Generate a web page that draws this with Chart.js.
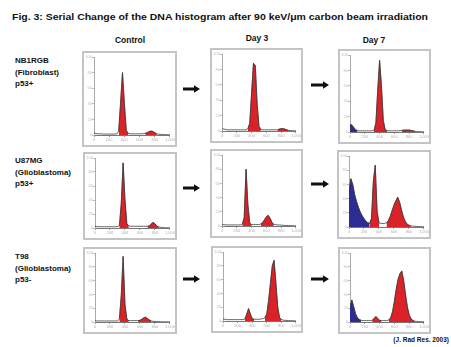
<!DOCTYPE html>
<html><head><meta charset="utf-8">
<script src="https://cdn.jsdelivr.net/npm/chart.js@4.4.0/dist/chart.umd.min.js"></script>
<style>
html,body{margin:0;padding:0;background:#fff;}
body{width:451px;height:347px;position:relative;overflow:hidden;font-family:"Liberation Sans",Arial,sans-serif;color:#111;}
.t{position:absolute;white-space:nowrap;font-weight:bold;line-height:1;}
.hdr{transform:translateX(-50%);font-size:8.5px;}
.lab{font-size:8px;line-height:11.5px;left:15px;}
.panel{position:absolute;border:2px solid #c4c4c4;background:#fff;box-sizing:border-box;}
.panel canvas{position:absolute;left:0;top:0;}
</style></head><body>
<div class="t" id="title" style="left:12px;top:13px;font-size:9px;transform-origin:0 0;">Fig. 3: Serial Change of the DNA histogram after 90 keV/μm carbon beam irradiation</div>
<div class="t hdr" style="left:130px;top:36px;">Control</div>
<div class="t hdr" style="left:257px;top:34px;">Day 3</div>
<div class="t hdr" style="left:374px;top:36px;">Day 7</div>
<div class="t lab" style="top:55px;">NB1RGB<br>(Fibroblast)<br>p53+</div>
<div class="t lab" style="top:155px;">U87MG<br>(Glioblastoma)<br>p53+</div>
<div class="t lab" style="top:251px;">T98<br>(Glioblastoma)<br>p53-</div>
<div class="t" style="right:2px;top:337px;font-size:6.5px;">(J. Rad Res. 2003)</div>
<svg id="arrows" style="position:absolute;left:0;top:0" width="451" height="347"></svg>
<script>
// DNA content channel (x axis)
const channels = [0,25,50,75,100,125,150,175,200,225,250,275,300,325,350,375,400,425,450,475,500,525,550,575,600,625,650,675,700,725,750,775,800,825,850,875,900,925,950,975,1000];
const xTicks = [0,200,400,600,800,1000];
const yTicks = [0,20,40,60,80,100];

// Cell counts (relative) per panel
const nb1Control = [2.5,2,1.5,1.5,1.5,1.2,1.2,1.2,1.2,1.2, 1.2,1.2,1.5,5,42,80,40,6,2,1.5, 1.5,1.5,1.5,1.5,1.5,1.5,1.8,2.2,3,4.5, 5,4.5,3,1.5,1,0.8,0.6,0.5,0.4,0.3, 0.2];
const nb1Day3    = [3,2.5,2,1.5,1.5,1.5,1.5,1.5,1.5,1.5, 1.5,1.5,1.5,1.5,3,10,50,88,85,35, 6,2,1.5,1.5,1.5,1.5,1.5,1.5,1.5,1.5, 1.5,2.5,3,3,2.5,1.5,0.8,0.5,0.4,0.3, 0.2];
const nb1Day7    = [10,9,6,3,1.8,1.5,1.5,1.5,1.5,1.5, 1.5,1.5,1.5,2,12,55,93,60,15,3, 1.8,1.5,1.5,1.5,1.5,1.5,1.5,1.8,2,2.5, 2.5,2.5,2.5,2,1.5,1,0.6,0.5,0.4,0.3, 0.2];
const u87Control = [2.5,2,2,1.8,1.8,1.8,1.8,1.8,1.8,1.8, 1.8,1.8,2,3,35,93,40,6,3,2.5, 2.5,2.5,2.5,2.5,2.5,2.5,2.5,2.5,2.5,3, 6,8,6,2.5,1.5,1,0.6,0.5,0.4,0.3, 0.2];
const u87Day3    = [2,2,1.5,1.5,1.5,1.5,1.5,1.5,1.5,1.5, 1.5,2.5,12,80,30,4,2,2,2,2, 2,3,5,9,13,15,11,5,2.5,2, 1.5,1.5,1.2,1,0.8,0.7,0.6,0.5,0.4,0.3, 0.2];
const u87Day7    = [50,68,60,46,36,28,21,16,12,8, 6,5,12,65,87,22,6,5,5,5, 6,9,15,23,31,37,42,35,24,14, 8,4,2.5,1.5,1.2,1,0.8,0.6,0.5,0.4, 0.3];
const t98Control = [2,1.5,1.5,1.5,1.5,1.5,1.5,1.5,1.5,1.5, 1.5,1.5,1.5,4,38,95,25,4,2,2, 2,2,2,2,2.5,4,6,7,5,3, 1.5,1,0.8,0.6,0.5,0.4,0.3,0.3,0.2,0.2, 0.2];
const t98Day3    = [3,2.5,2,2,2,2,2,2,2,2, 2,2,3,10,18,10,3.5,2.5,2.5,2.5, 2.5,3,3.5,5,10,30,55,80,88,55, 20,5,2,1.2,1,0.8,0.6,0.5,0.4,0.3, 0.2];
const t98Day7    = [22,32,22,12,6,3.5,2.5,2,2,2, 2,2,2.5,5,8,5,2.5,2,2,2, 2,3,6,15,30,48,62,70,74,60, 40,22,10,5,2,1.2,0.8,0.6,0.5,0.4, 0.3];

// Cell-cycle gates (channel ranges): sub-G1 (blue) and G1/G2 fits (red)
const subG1Gates = {nb1Day7:[0,100], u87Day7:[0,275], t98Day7:[0,150]};
const peakGates = {
  nb1Control:[[325,450],[675,825]], nb1Day3:[[350,525],[750,900]], nb1Day7:[[325,500],[700,875]],
  u87Control:[[325,450],[700,850]], u87Day3:[[275,400],[525,700]], u87Day7:[[275,400],[500,825]],
  t98Control:[[325,450],[575,750]], t98Day3:[[300,425],[575,800]], t98Day7:[[300,425],[525,875]]
};
const series = {nb1Control,nb1Day3,nb1Day7,u87Control,u87Day3,u87Day7,t98Control,t98Day3,t98Day7};

// layout: [name, left, top, width, height]
const layout = [
  ['nb1Control',82,51,95,96],['nb1Day3',210,48,93,95],['nb1Day7',338,49,93,95],
  ['u87Control',83,152,94,88],['u87Day3',210,149,93,89],['u87Day7',337,150,94,89],
  ['t98Control',83,247,94,87],['t98Day3',211,246,92,87],['t98Day7',338,247,93,87]
];

function pts(arr, inGate){
  return channels.map((c,i)=>({x:c, y: inGate(c) ? arr[i] : null}));
}
layout.forEach(([name,l,t,w,h])=>{
  const div=document.createElement('div');
  div.className='panel';
  Object.assign(div.style,{left:l+'px',top:t+'px',width:w+'px',height:h+'px'});
  const cv=document.createElement('canvas');
  cv.width=w-4; cv.height=h-4;
  cv.style.width=(w-4)+'px'; cv.style.height=(h-4)+'px';
  div.appendChild(cv);
  document.body.appendChild(div);
  const arr=series[name];
  const pg=peakGates[name];
  const sg=subG1Gates[name];
  const datasets=[
    {data:pts(arr,()=>true),borderColor:'#3a3a3a',borderWidth:0.8,fill:false,order:0},
    {data:pts(arr,c=>pg.some(g=>c>=g[0]&&c<=g[1])),borderColor:'#7e1616',borderWidth:0.5,backgroundColor:'#dc2229',fill:'origin',order:1,spanGaps:false}
  ];
  if(sg){
    datasets.push({data:pts(arr,c=>c>=sg[0]&&c<=sg[1]),borderColor:'#1b1b66',borderWidth:0.5,backgroundColor:'#2c2c92',fill:'origin',order:1,spanGaps:false});
  }
  new Chart(cv,{
    type:'line',
    data:{datasets},
    options:{
      responsive:false,animation:false,
      layout:{padding:{left:0,right:2,top:4,bottom:0},autoPadding:false},
      plugins:{legend:{display:false},tooltip:{enabled:false}},
      elements:{point:{radius:0},line:{tension:0}},
      scales:{
        x:{type:'linear',min:0,max:1000,
          afterBuildTicks(s){s.ticks=xTicks.map(v=>({value:v}));},
          ticks:{font:{size:4},color:'#b0b0b0',padding:0,maxRotation:0,autoSkip:false},
          grid:{drawOnChartArea:false,drawTicks:true,tickLength:2,color:'#999'},
          border:{display:true,color:'#777',width:1},
          afterFit(s){s.height=10;}},
        y:{min:0,max:100,
          afterBuildTicks(s){s.ticks=yTicks.map(v=>({value:v}));},
          ticks:{font:{size:4},color:'#bbb',padding:0},
          grid:{drawOnChartArea:false,drawTicks:true,tickLength:2,color:'#bbb'},
          border:{display:true,color:'#aaa',width:1},
          afterFit(s){s.width=10;}}
      }
    }
  });
});

// arrows between time points: [x1,x2,y]
const arrowPos=[[183,200,89],[311,329,85],[183,200,188],[311,329,184],[183,200,279],[311,329,279]];
const svg=document.getElementById('arrows');
arrowPos.forEach(([x1,x2,y])=>{
  const p=document.createElementNS('http://www.w3.org/2000/svg','polygon');
  const hx=x2-6;
  p.setAttribute('points',`${x1},${y-1.6} ${hx},${y-1.6} ${hx},${y-3.8} ${x2},${y} ${hx},${y+3.8} ${hx},${y+1.6} ${x1},${y+1.6}`);
  p.setAttribute('fill','#111');
  svg.appendChild(p);
});

// fit title width
const tt=document.getElementById('title');
const tw=tt.getBoundingClientRect().width;
tt.style.transform='scaleX('+(416/tw)+')';
</script>
</body></html>
